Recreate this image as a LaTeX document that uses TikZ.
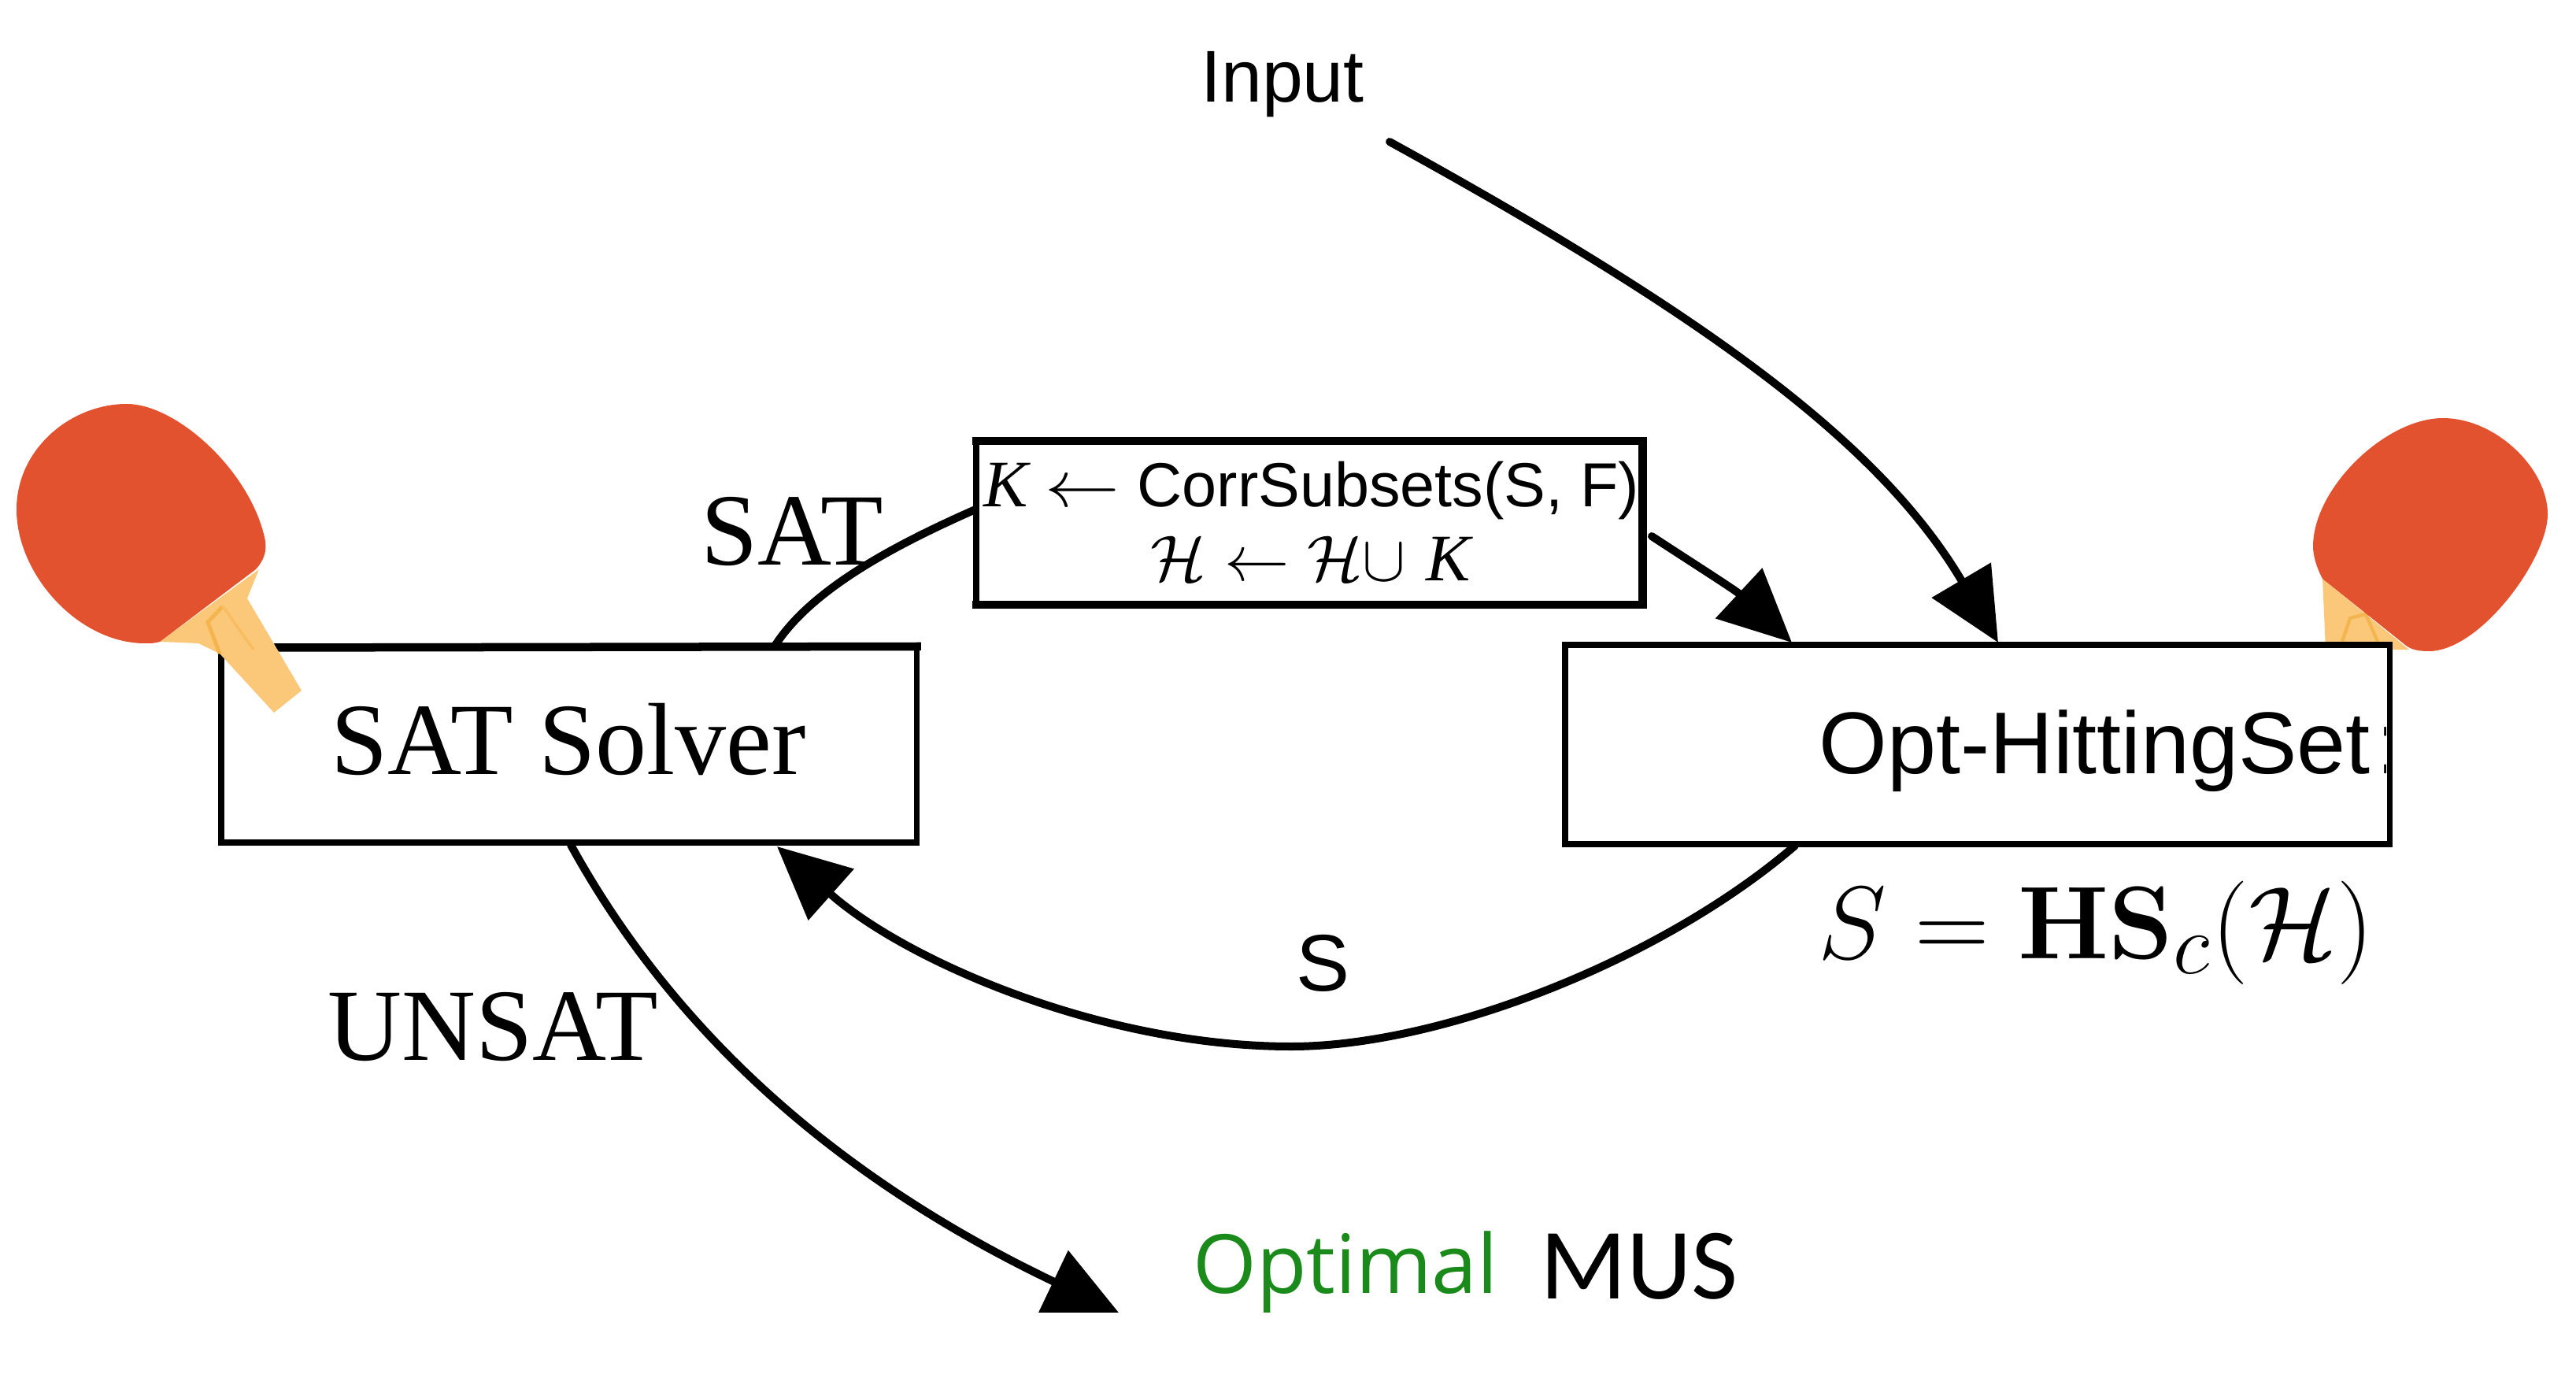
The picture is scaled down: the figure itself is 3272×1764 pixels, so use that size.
\documentclass[tikz,border=0pt]{standalone}
\usepackage{amsmath,amssymb}
\usepackage[no-math]{fontspec}
\setmainfont{Liberation Sans}
\newfontfamily\tnrfont{Liberation Serif}
\newfontfamily\musfont{Carlito}
\newfontfamily\optfont{Open Sans}
\usetikzlibrary{arrows.meta}
\definecolor{padred}{HTML}{E2522E}
\definecolor{padhandle}{HTML}{FBC87A}
\definecolor{padmark}{HTML}{F5B54E}
\definecolor{optgreen}{HTML}{1A8A1A}
\tikzset{
  boxthin/.style={draw=black,fill=white,line width=0.075cm,inner sep=0pt,outer sep=0pt,anchor=north west},
  conn/.style={draw=black,line width=0.1cm,line cap=round},
  head/.style={-{Triangle[length=0.92cm,width=0.85cm]}},
  thickedge/.style={line width=0.105cm,line cap=rect},
  lab/.style={inner sep=0pt,anchor=base},
}
\newcommand{\kvar}{{\fontsize{24}{24}\selectfont\tnrfont\itshape K}}
\begin{document}
\begin{tikzpicture}[x=0.01cm,y=-0.01cm]
\useasboundingbox (0,0) rectangle (3272,1764);
% free ends and attachment points
\coordinate (inStart) at (1765,180);
\coordinate (optIn) at (2538,816);
\coordinate (optK) at (2276,816);
\coordinate (optS) at (2280,1074);
\coordinate (satOut) at (985,819);
\coordinate (satS) at (987,1075);
\coordinate (satU) at (725,1073);
\coordinate (corrIn) at (1239,647);
\coordinate (corrOut) at (2098,681);
\coordinate (musEnd) at (1421,1667);
\coordinate (sLow) at (1640,1329);
% right paddle (behind the box)
\fill[padhandle] (2950,735) -- (2954,825) -- (3060,825) -- cycle;
\draw[padmark,line width=1.2pt] (2975,815) -- (2985,785) -- (3005,780) -- (3020,815);
\fill[padred] (3103,531) .. controls (3170,531) and (3236,595) .. (3236,653)
  .. controls (3236,710) and (3150,827) .. (3085,827)
  .. controls (3072,827) and (3062,825) .. (3055,819)
  -- (2950,735)
  .. controls (2942,720) and (2938,705) .. (2938,694)
  .. controls (2938,620) and (3030,531) .. (3103,531) -- cycle;
% boxes
\node[boxthin,minimum width=8.83cm,minimum height=2.49cm] (sat) at (281,821) {};
\node[boxthin,minimum width=10.47cm,minimum height=2.53cm] (opt) at (1988,819) {};
\draw[thickedge] (335,822.5) -- (sat.north east);
% left paddle, over the box corner
\fill[padhandle] (329,723) -- (314,760) -- (383,877) -- (348,905) -- (279,830) -- (252,817) -- (203,815) -- cycle;
\draw[padmark,line width=1.4pt] (283,770) -- (264,790) -- (279,830);
\draw[padmark!60!padhandle,line width=1pt] (283,770) -- (322,825);
\fill[padred] (161,513) .. controls (225,513) and (320,600) .. (337,687)
  .. controls (339,700) and (335,712) .. (325,723)
  -- (203,815)
  .. controls (197,817) and (190,817) .. (184,817)
  .. controls (100,817) and (21,730) .. (21,647)
  .. controls (21,570) and (90,513) .. (161,513) -- cycle;
% box texts
\node[lab] at (722,983) {\fontsize{37}{37}\selectfont\tnrfont SAT Solver};
\begin{scope}
\clip (2200,850) rectangle (3030,1060);
\node[inner sep=0pt,anchor=base west] at (2310,982) {\fontsize{31.7}{32}\selectfont Opt-HittingSet\kern2.2pt:};
\end{scope}
% connectors
\draw[conn,head] (inStart) .. controls (2165,400) and (2388,562) .. (optIn);
\draw[conn] (satOut) .. controls (1030,750) and (1130,695) .. (corrIn);
\draw[conn,head] (corrOut) .. controls (2150,715) and (2205,750) .. (optK);
\draw[conn,head] (optS) .. controls (2110,1220) and (1830,1329) .. (sLow) .. controls (1400,1329) and (1150,1220) .. (satS);
\draw[conn,head] (satU) .. controls (850,1300) and (1050,1490) .. (musEnd);
% corr box
\node[boxthin,minimum width=8.46cm,minimum height=2.08cm] (corr) at (1240,560) {};
\draw[thickedge] (corr.north west) -- (corr.north east) -- (corr.south east) -- (corr.south west);
\node[lab] (k1) at (1666,643) {\fontsize{22.5}{23}\selectfont \kvar\ \scalebox{1.3}[1.15]{$\leftarrow$}\ CorrSubsets(S, F)};
\node[lab] (k2) at (1665,737) {\fontsize{22.2}{23}\selectfont\scalebox{1.13}{$\mathcal{H}\leftarrow\mathcal{H}\cup$}\,\,\kvar};
% labels
\node[lab] (input) at (1629,130) {\fontsize{26.5}{27}\selectfont Input};
\node[lab] (satl) at (1006,717) {\fontsize{37}{37}\selectfont\tnrfont SAT};
\node[lab] (unsat) at (626,1346) {\fontsize{37}{37}\selectfont\tnrfont UNSAT};
\node[lab] (sl) at (1680,1258) {\fontsize{29}{29}\selectfont S};
\node[lab] (hs) at (2662,1217) {\scalebox{1.5}{\fontsize{24.88}{25}\selectfont $S=\mathbf{HS}_c(\mathcal{H})$}};
\node[lab,text=optgreen] (optimal) at (1709,1642) {\fontsize{29.5}{30}\selectfont\optfont Optimal};
\node[lab] (mus) at (2082,1649) {\fontsize{36.5}{37}\selectfont\musfont MUS};
\end{tikzpicture}
\end{document}
